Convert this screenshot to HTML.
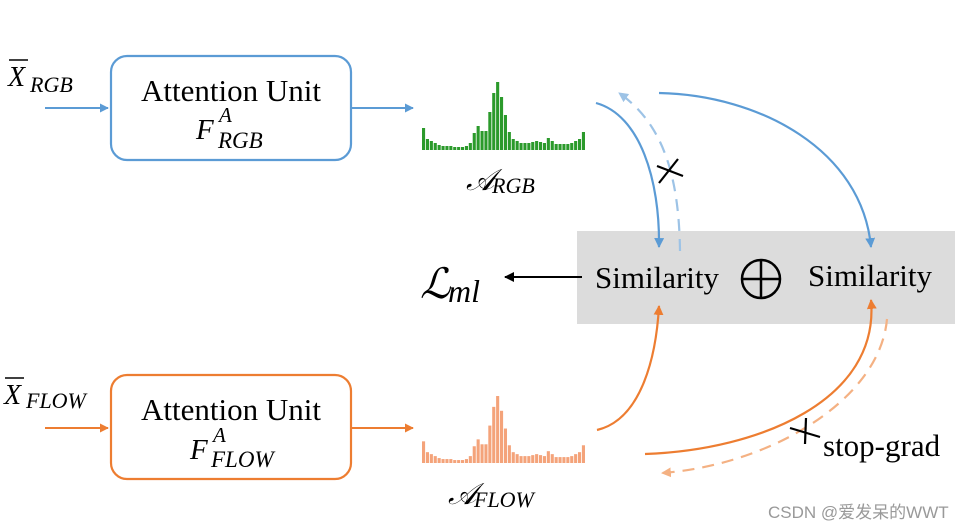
<!DOCTYPE html>
<html><head><meta charset="utf-8"><style>
html,body{margin:0;padding:0;background:#fff;}
svg{display:block;}
.s{font-family:"Liberation Serif",serif;}
.i{font-family:"Liberation Serif",serif;font-style:italic;}
</style></head><body>
<svg width="977" height="531" viewBox="0 0 977 531" xmlns="http://www.w3.org/2000/svg">
<defs>
<marker id="ab" viewBox="0 0 10 10" refX="9" refY="5" markerWidth="4.5" markerHeight="4.5" orient="auto"><path d="M0,0L10,5L0,10z" fill="#5b9bd5"/></marker>
<marker id="abl" viewBox="0 0 10 10" refX="9" refY="5" markerWidth="4.5" markerHeight="4.5" orient="auto"><path d="M0,0L10,5L0,10z" fill="#9dc3e6"/></marker>
<marker id="ao" viewBox="0 0 10 10" refX="9" refY="5" markerWidth="4.5" markerHeight="4.5" orient="auto"><path d="M0,0L10,5L0,10z" fill="#ed7d31"/></marker>
<marker id="aol" viewBox="0 0 10 10" refX="9" refY="5" markerWidth="4.5" markerHeight="4.5" orient="auto"><path d="M0,0L10,5L0,10z" fill="#f4b183"/></marker>
<marker id="ak" viewBox="0 0 10 10" refX="9" refY="5" markerWidth="5" markerHeight="5" orient="auto"><path d="M0,0L10,5L0,10z" fill="#000"/></marker>
<g id="bars">
<rect x="422" y="-22" width="3.1" height="22"/><rect x="425.9" y="-11" width="3.1" height="11"/><rect x="429.8" y="-9" width="3.1" height="9"/><rect x="433.7" y="-7" width="3.1" height="7"/><rect x="437.6" y="-5" width="3.1" height="5"/><rect x="441.5" y="-4" width="3.1" height="4"/><rect x="445.4" y="-4" width="3.1" height="4"/><rect x="449.3" y="-4" width="3.1" height="4"/><rect x="453.2" y="-3" width="3.1" height="3"/><rect x="457.1" y="-3" width="3.1" height="3"/><rect x="461" y="-3" width="3.1" height="3"/><rect x="464.9" y="-4" width="3.1" height="4"/><rect x="468.8" y="-7" width="3.1" height="7"/><rect x="472.7" y="-17" width="3.1" height="17"/><rect x="476.6" y="-24" width="3.1" height="24"/><rect x="480.5" y="-19" width="3.1" height="19"/><rect x="484.4" y="-19" width="3.1" height="19"/><rect x="488.3" y="-38" width="3.1" height="38"/><rect x="492.2" y="-57" width="3.1" height="57"/><rect x="496.1" y="-68" width="3.1" height="68"/><rect x="500" y="-53" width="3.1" height="53"/><rect x="503.9" y="-35" width="3.1" height="35"/><rect x="507.8" y="-18" width="3.1" height="18"/><rect x="511.7" y="-11" width="3.1" height="11"/><rect x="515.6" y="-9" width="3.1" height="9"/><rect x="519.5" y="-7" width="3.1" height="7"/><rect x="523.4" y="-7" width="3.1" height="7"/><rect x="527.3" y="-7" width="3.1" height="7"/><rect x="531.2" y="-8" width="3.1" height="8"/><rect x="535.1" y="-9" width="3.1" height="9"/><rect x="539" y="-8" width="3.1" height="8"/><rect x="542.9" y="-7" width="3.1" height="7"/><rect x="546.8" y="-12" width="3.1" height="12"/><rect x="550.7" y="-9" width="3.1" height="9"/><rect x="554.6" y="-6" width="3.1" height="6"/><rect x="558.5" y="-6" width="3.1" height="6"/><rect x="562.4" y="-6" width="3.1" height="6"/><rect x="566.3" y="-6" width="3.1" height="6"/><rect x="570.2" y="-7" width="3.1" height="7"/><rect x="574.1" y="-9" width="3.1" height="9"/><rect x="578" y="-11" width="3.1" height="11"/><rect x="581.9" y="-18" width="3.1" height="18"/>
</g>
</defs>

<rect x="577" y="231" width="378" height="93" fill="#dcdcdc"/>

<!-- RGB row -->
<text x="8" y="86" class="i" font-size="28">X</text>
<line x1="9" y1="60" x2="28" y2="60" stroke="#000" stroke-width="1.5"/>
<text x="30" y="92" class="i" font-size="22">RGB</text>
<line x1="45" y1="108" x2="108" y2="108" stroke="#5b9bd5" stroke-width="2" marker-end="url(#ab)"/>
<rect x="111" y="56" width="240" height="104" rx="16" fill="#fff" stroke="#5b9bd5" stroke-width="2.2"/>
<text x="231" y="101" class="s" font-size="31" text-anchor="middle">Attention Unit</text>
<text x="196" y="139" class="i" font-size="29">F</text>
<text x="219" y="122" class="i" font-size="21">A</text>
<text x="218" y="148" class="i" font-size="23">RGB</text>
<line x1="352" y1="108" x2="413" y2="108" stroke="#5b9bd5" stroke-width="2" marker-end="url(#ab)"/>
<use href="#bars" transform="translate(0,150)" fill="#2b9a2b"/>
<text x="466" y="190" class="i" font-size="30">𝒜</text>
<text x="492" y="193" class="i" font-size="22">RGB</text>

<!-- FLOW row -->
<text x="4" y="404" class="i" font-size="28">X</text>
<line x1="5" y1="378" x2="24" y2="378" stroke="#000" stroke-width="1.5"/>
<text x="26" y="408" class="i" font-size="22">FLOW</text>
<line x1="45" y1="428" x2="108" y2="428" stroke="#ed7d31" stroke-width="2" marker-end="url(#ao)"/>
<rect x="111" y="375" width="240" height="104" rx="16" fill="#fff" stroke="#ed7d31" stroke-width="2.2"/>
<text x="231" y="420" class="s" font-size="31" text-anchor="middle">Attention Unit</text>
<text x="190" y="459" class="i" font-size="29">F</text>
<text x="213" y="442" class="i" font-size="21">A</text>
<text x="211" y="467" class="i" font-size="23">FLOW</text>
<line x1="352" y1="428" x2="413" y2="428" stroke="#ed7d31" stroke-width="2" marker-end="url(#ao)"/>
<use href="#bars" transform="translate(0,463) scale(1,0.985)" fill="#f4a37a"/>
<text x="448" y="504" class="i" font-size="30">𝒜</text>
<text x="474" y="507" class="i" font-size="22">FLOW</text>

<!-- similarity -->
<text x="595" y="288" class="s" font-size="31">Similarity</text>
<circle cx="761" cy="279" r="19" fill="none" stroke="#000" stroke-width="2.5"/>
<line x1="742" y1="279" x2="780" y2="279" stroke="#000" stroke-width="2.5"/>
<line x1="761" y1="260" x2="761" y2="298" stroke="#000" stroke-width="2.5"/>
<text x="808" y="286" class="s" font-size="31">Similarity</text>
<line x1="582" y1="277" x2="505" y2="277" stroke="#000" stroke-width="2" marker-end="url(#ak)"/>
<text x="420" y="298" class="i" font-size="42">ℒ</text>
<text x="448" y="302" class="i" font-size="32">ml</text>

<!-- blue curves -->
<path d="M596,103 C640,115 660,180 659,247" fill="none" stroke="#5b9bd5" stroke-width="2.2" marker-end="url(#ab)"/>
<path d="M680,251 C679,180 665,125 619,93" fill="none" stroke="#9dc3e6" stroke-width="2.2" stroke-dasharray="12,8" marker-end="url(#abl)"/>
<path d="M659,93 C760,95 862,150 871,247" fill="none" stroke="#5b9bd5" stroke-width="2.2" marker-end="url(#ab)"/>
<line x1="657" y1="166" x2="683" y2="176" stroke="#000" stroke-width="2.2"/>
<line x1="659" y1="183" x2="678" y2="159" stroke="#000" stroke-width="2.2"/>

<!-- orange curves -->
<path d="M597,430 C640,420 656,360 659,306" fill="none" stroke="#ed7d31" stroke-width="2.2" marker-end="url(#ao)"/>
<path d="M645,454 C760,450 880,400 871,300" fill="none" stroke="#ed7d31" stroke-width="2.2" marker-end="url(#ao)"/>
<path d="M887,319 C880,400 770,465 662,473" fill="none" stroke="#f4b183" stroke-width="2.2" stroke-dasharray="12,8" marker-end="url(#aol)"/>
<line x1="790" y1="428" x2="820" y2="437" stroke="#000" stroke-width="2.2"/>
<line x1="806" y1="418" x2="805" y2="444" stroke="#000" stroke-width="2.2"/>
<text x="823" y="456" class="s" font-size="31">stop-grad</text>

<text x="768" y="518" font-family="Liberation Sans, 'Noto Sans CJK SC', sans-serif" font-size="17" fill="#999">CSDN @爱发呆的WWT</text>
</svg>
</body></html>
